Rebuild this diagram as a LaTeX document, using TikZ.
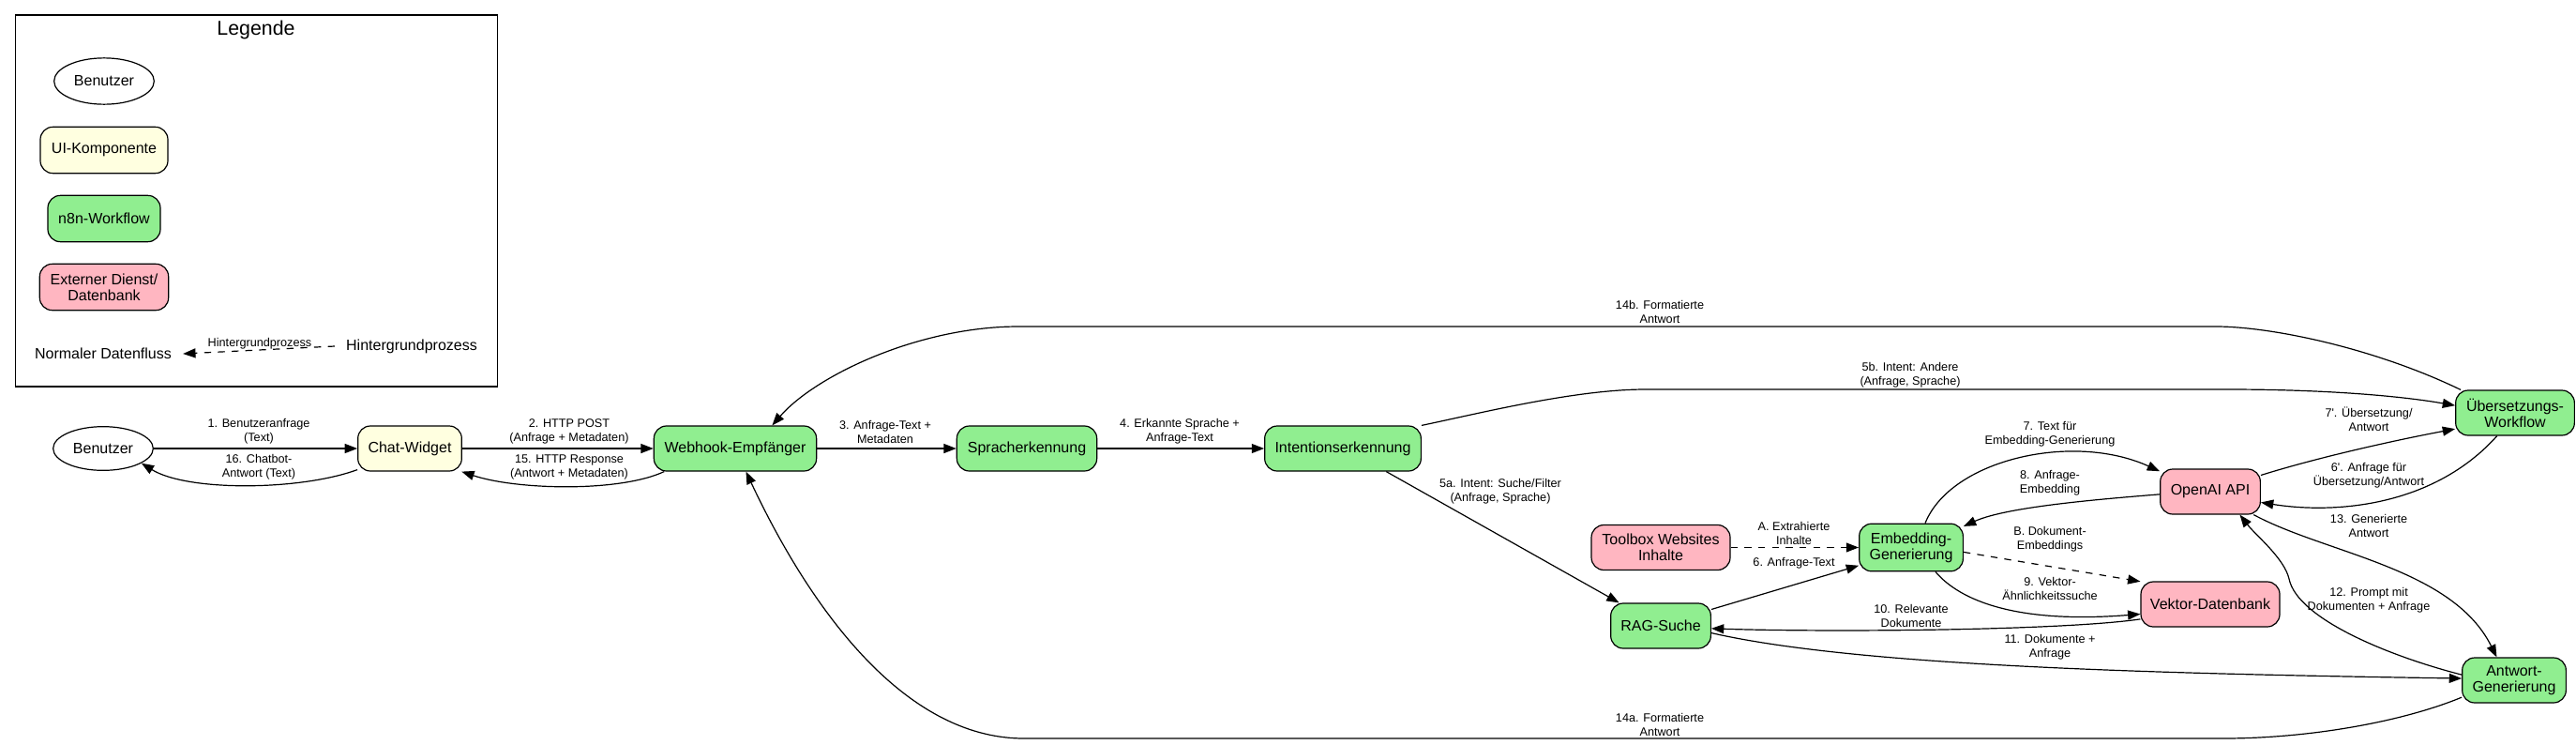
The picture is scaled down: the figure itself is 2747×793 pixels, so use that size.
\documentclass[tikz,border=0pt]{standalone}
\usepackage{fontspec}
\setmainfont{Liberation Sans}
\usetikzlibrary{arrows.meta,shapes.geometric}
\definecolor{ngreen}{HTML}{90EE90}
\definecolor{nyellow}{HTML}{FFFFE0}
\definecolor{npink}{HTML}{FFB6C1}
\begin{document}
\begin{tikzpicture}[x=0.75pt,y=-0.75pt,
  nodefont/.style={font=\fontsize{12}{12.6}\selectfont},
  box/.style={draw=black, line width=0.9pt, rounded corners=10pt, align=center, inner sep=0pt, minimum height=36pt, nodefont},
  wf/.style={box, fill=ngreen},
  ui/.style={box, fill=nyellow},
  ext/.style={box, fill=npink},
  user/.style={ellipse, draw=black, line width=0.9pt, inner sep=0pt, nodefont},
  lbl/.style={font=\fontsize{9.5}{11.25}\selectfont, align=center, inner sep=0pt},
  flow/.style={line width=0.9pt, -{Triangle[length=10pt,width=7.5pt]}},
  bgflow/.style={flow, dash pattern=on 5.5pt off 5.5pt},
]
\useasboundingbox (0,0) rectangle (2747,793);

% ---------- legend ----------
\node[draw=black, line width=0.9pt, minimum width=386pt, minimum height=297pt, inner sep=0pt] (legend) at (273.5,214) {};
\node[font=\fontsize{16}{18}\selectfont, inner sep=0pt] (legtitle) at (273,31.5) {Legende};
\node[user, minimum width=80pt, minimum height=37pt] (lgu) at (111,86.5) {Benutzer};
\node[ui, minimum width=102pt, minimum height=37pt] (lgui) at (111,160) {UI-Komponente};
\node[wf, minimum width=90pt, minimum height=37pt] (lgwf) at (111,233) {n8n-Workflow};
\node[ext, minimum width=103pt, minimum height=37pt] (lgext) at (111,306) {Externer Dienst/\\Datenbank};
\node[nodefont, inner xsep=9pt, inner ysep=2pt] (lgnd) at (110,377) {Normaler Datenfluss};
\node[nodefont, inner xsep=9pt, inner ysep=2pt] (lghg) at (439,369) {Hintergrundprozess};
\draw[bgflow] (lghg.west) -- (lgnd.east);
\node[lbl] (lghgl) at (277,366) {Hintergrundprozess};

% ---------- main nodes ----------
\node[user, minimum width=80pt, minimum height=35pt] (benutzer) at (110,478) {Benutzer};
\node[ui, minimum width=83pt] (chat) at (437,478) {Chat-Widget};
\node[wf, minimum width=130pt] (webhook) at (784,478) {Webhook-Empfänger};
\node[wf, minimum width=112pt] (sprach) at (1095,478) {Spracherkennung};
\node[wf, minimum width=125pt] (intent) at (1432,478) {Intentionserkennung};
\node[wf, minimum width=95pt] (ueber) at (2682,440) {Übersetzungs-\\Workflow};
\node[ext, minimum width=80pt] (openai) at (2357,524) {OpenAI API};
\node[wf, minimum width=83pt, minimum height=38pt] (embed) at (2038,583.5) {Embedding-\\Generierung};
\node[ext, minimum width=111pt] (toolbox) at (1771,583.5) {Toolbox Websites\\Inhalte};
\node[ext, minimum width=111pt] (vektor) at (2357,644) {Vektor-Datenbank};
\node[wf, minimum width=80pt] (rag) at (1771,667) {RAG-Suche};
\node[wf, minimum width=83pt] (antwort) at (2681,725) {Antwort-\\Generierung};

% ---------- connectors ----------
\draw[flow] (benutzer.east) -- (chat.west);
\draw[flow] (chat.202) .. controls (320,523) and (200,524) .. (benutzer.339);
\draw[flow] (chat.east) -- (webhook.west);
\draw[flow] (webhook.198) .. controls (660,525) and (550,522) .. (chat.336);
\draw[flow] (webhook.east) -- (sprach.west);
\draw[flow] (sprach.east) -- (intent.west);
\draw[flow] (intent.north east) .. controls (1580,440) and (1680,415) .. (1755,415) -- (2375,415) .. controls (2480,415) and (2560,422) .. (ueber.173);
\draw[flow] (ueber.157) .. controls (2530,370) and (2420,348) .. (2363,348) -- (1086,348) .. controls (980,348) and (870,400) .. (webhook.32);
\draw[flow] (intent.332) -- (rag.151);
\draw[flow] (rag.18) -- (embed.199);
\draw[bgflow] (toolbox.east) -- (embed.west);
\draw[flow] (embed.60) .. controls (2080,490) and (2210,460) .. (openai.158);
\draw[flow] (openai.183) .. controls (2240,532) and (2140,540) .. (embed.22);
\draw[bgflow] (embed.355) -- (vektor.162);
\draw[flow] (embed.315) .. controls (2090,640) and (2150,665) .. (vektor.188);
\draw[flow] (vektor.192) .. controls (2200,672) and (1950,674) .. (rag.357);
\draw[flow] (rag.352) .. controls (1980,710) and (2300,718) .. (antwort.178);
\draw[flow] (antwort.174) .. controls (2550,700) and (2450,660) .. (2441,617) .. controls (2436,595) and (2405,570) .. (openai.322);
\draw[flow] (openai.332) .. controls (2480,590) and (2615,605) .. (antwort.127);
\draw[flow] (ueber.232) .. controls (2595,540) and (2490,548) .. (openai.348);
\draw[flow] (openai.18) .. controls (2470,488) and (2550,470) .. (ueber.195);
\draw[flow] (antwort.198) .. controls (2560,770) and (2460,787) .. (2371,787) -- (1092,787) .. controls (960,787) and (860,640) .. (webhook.295);

% ---------- labels ----------
\node[lbl] (l1) at (276,460) {1. Benutzeranfrage\\(Text)};
\node[lbl] (l16) at (276,498) {16. Chatbot-\\Antwort (Text)};
\node[lbl] (l2) at (607,460) {2. HTTP POST\\(Anfrage + Metadaten)};
\node[lbl] (l15) at (607,498) {15. HTTP Response\\(Antwort + Metadaten)};
\node[lbl] (l3) at (944,460) {3. Anfrage-Text +\\Metadaten};
\node[lbl] (l4) at (1258,460) {4. Erkannte Sprache +\\Anfrage-Text};
\node[lbl] (l5b) at (2037,400) {5b. Intent: Andere\\(Anfrage, Sprache)};
\node[lbl] (l14b) at (1770,332) {14b. Formatierte\\Antwort};
\node[lbl] (l5a) at (1600,524) {5a. Intent: Suche/Filter\\(Anfrage, Sprache)};
\node[lbl] (lA) at (1913,568) {A. Extrahierte\\Inhalte};
\node[lbl] (l6) at (1913,600) {6. Anfrage-Text};
\node[lbl] (l7) at (2186,463) {7. Text für\\Embedding-Generierung};
\node[lbl] (l8) at (2186,515) {8. Anfrage-\\Embedding};
\node[lbl] (lB) at (2186,575) {B. Dokument-\\Embeddings};
\node[lbl] (l9) at (2186,627) {9. Vektor-\\Ähnlichkeitssuche};
\node[lbl] (l10) at (2038,656) {10. Relevante\\Dokumente};
\node[lbl] (l11) at (2186,690) {11. Dokumente +\\Anfrage};
\node[lbl] (l12) at (2526,640) {12. Prompt mit\\Dokumenten + Anfrage};
\node[lbl] (l13) at (2526,560) {13. Generierte\\Antwort};
\node[lbl] (l6p) at (2526,507) {6\textquotesingle. Anfrage für\\Übersetzung/Antwort};
\node[lbl] (l7p) at (2526,447) {7\textquotesingle. Übersetzung/\\Antwort};
\node[lbl] (l14a) at (1770,772) {14a. Formatierte\\Antwort};
\end{tikzpicture}
\end{document}
